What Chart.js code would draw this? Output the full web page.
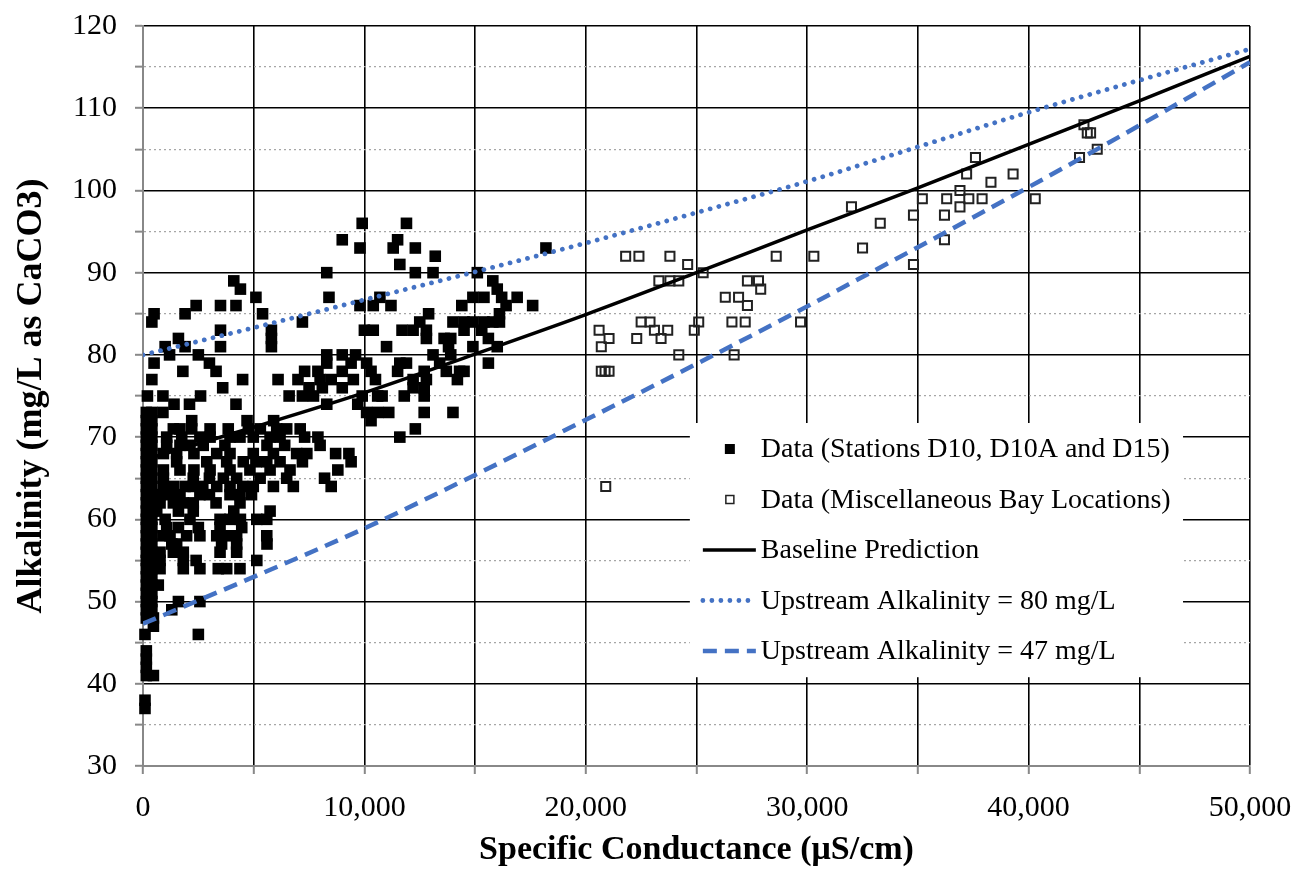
<!DOCTYPE html>
<html>
<head>
<meta charset="utf-8">
<script src="https://cdn.jsdelivr.net/npm/chart.js@4"></script>
<style>
  html, body { margin: 0; padding: 0; background: #fff; }
</style>
</head>
<body>
<canvas id="chart" width="1294" height="873"></canvas>
<script>
// prediction curves
const curveX = [0, 5000, 10000, 15000, 20000, 25000, 30000, 35000, 40000, 45000, 50000];
const baselineY = [67.2, 71.2, 75.4, 80.1, 84.9, 90.0, 95.2, 100.3, 105.6, 110.9, 116.3];
const upstream80Y = [80.0, 83.3, 86.7, 90.1, 93.6, 97.3, 101.1, 105.3, 109.5, 113.4, 117.2];
const upstream47Y = [47.3, 53.0, 58.9, 65.4, 72.1, 78.9, 85.9, 93.1, 100.4, 107.9, 115.6];

// stations D10, D10A, D15: [alkalinity, [conductance values...]]
const stationRows = [
  [96, [9900, 11900]],
  [94, [9000, 11500]],
  [93, [9800, 11300, 12300, 18200]],
  [92, [13200]],
  [91, [11600]],
  [90, [8300, 12300, 13100, 15100]],
  [89, [4100, 15800]],
  [88, [4400, 16000]],
  [87, [5100, 8400, 10700, 14900, 15400, 16200, 16900]],
  [86, [2400, 3500, 4200, 9800, 10400, 11200, 14400, 16400, 17600]],
  [85, [500, 1900, 5400, 12900, 16100]],
  [84, [400, 7200, 12500, 14000, 14500, 14900, 15400, 15800, 16100]],
  [83, [3500, 5800, 10000, 10400, 11700, 12200, 12800, 14500, 15300]],
  [82, [1600, 5800, 12800, 13600, 13900, 15600]],
  [81, [1000, 1900, 3500, 5800, 11000, 13800, 14900, 16000]],
  [80, [1200, 2500, 8300, 9000, 9600, 13100, 13900]],
  [79, [500, 3000, 8300, 9400, 10100, 11600, 11900, 13400, 15600]],
  [78, [1800, 3300, 7300, 7900, 9000, 10300, 11500, 12700, 13700, 14300, 14500]],
  [77, [400, 4500, 6100, 7000, 8000, 8500, 9500, 10500, 12200, 12800, 14200]],
  [76, [3600, 7500, 8100, 9000, 12200, 12700]],
  [75, [200, 900, 2600, 6600, 7200, 7700, 9900, 10600, 10800, 11800, 12700]],
  [74, [1400, 2100, 4200, 8300, 9700]],
  [73, [150, 400, 900, 10100, 10600, 11100, 12700, 14000]],
  [72, [150, 400, 2200, 4700, 5900, 10300]],
  [71, [150, 400, 1370, 1670, 2200, 3030, 3850, 4760, 5300, 6040, 6490, 7100, 12300]],
  [70, [150, 400, 1070, 1750, 2570, 3030, 3930, 4380, 4980, 5740, 6190, 7300, 7900, 11600]],
  [69, [150, 400, 1070, 1670, 2120, 2720, 3700, 5600, 6400, 8000]],
  [68, [150, 400, 920, 1520, 2300, 3330, 3930, 4980, 5890, 6940, 7400, 8700, 9300]],
  [67, [150, 400, 1520, 2880, 3780, 4530, 5100, 5590, 6190, 7200, 9400]],
  [66, [150, 400, 920, 1670, 2300, 3030, 3930, 4830, 5740, 6640, 8800]],
  [65, [150, 400, 920, 2270, 3000, 3630, 4230, 5290, 6490, 8200]],
  [64, [150, 400, 920, 1370, 1900, 2270, 2700, 3330, 3930, 4500, 4980, 5890, 6790, 8500]],
  [63, [150, 400, 770, 1200, 1670, 2570, 3000, 3930, 4380, 4900]],
  [62, [150, 400, 770, 1370, 1820, 2270, 3300, 4380]],
  [61, [150, 400, 620, 1600, 2270, 4100, 5740]],
  [60, [150, 400, 1000, 2120, 3480, 3930, 4400, 5140, 5590]],
  [59, [150, 400, 1070, 1600, 2500, 3480, 4460]],
  [58, [150, 400, 900, 1220, 1970, 2570, 3330, 3780, 4230, 5590]],
  [57, [150, 400, 1300, 1520, 3550, 4230, 5600]],
  [56, [150, 400, 770, 1370, 1820, 3480, 4230]],
  [55, [150, 400, 770, 1820, 2400, 5140]],
  [54, [150, 400, 770, 1820, 2570, 3400, 3780, 4380]],
  [53, [150, 400]],
  [52, [150, 400, 690]],
  [51, [150, 400]],
  [50, [150, 400, 1600, 2570]],
  [49, [150, 400, 1300]],
  [48, [150, 470]],
  [47, [470]],
  [46, [90, 2500]],
  [44, [150]],
  [43, [150]],
  [42, [150]],
  [41, [150, 470]],
  [38, [90]],
  [37, [90]]
];

// miscellaneous bay locations: [conductance, alkalinity]
const bayPoints = [
  [20600, 83], [21050, 82], [20700, 81], [20700, 78], [20870, 78], [21050, 78], [20900, 64],
  [21800, 92], [22400, 92], [23800, 92], [24600, 91], [25300, 90],
  [23300, 89], [23800, 89], [24200, 89], [22500, 84], [22900, 84], [23100, 83], [23700, 83],
  [22300, 82], [23400, 82], [25100, 84], [24900, 83], [24200, 80], [26700, 80],
  [26300, 87], [26900, 87], [27300, 86], [27300, 89], [27800, 89], [27900, 88],
  [26600, 84], [27200, 84], [28600, 92], [29700, 84], [30300, 92],
  [32000, 98], [32500, 93], [33300, 96], [34800, 97], [34800, 91], [35200, 99],
  [36200, 97], [36200, 94], [36300, 99], [36900, 100], [36900, 98], [37200, 102],
  [37300, 99], [37600, 104], [37900, 99], [38300, 101], [39300, 102], [40300, 99],
  [42300, 104], [42500, 108], [42650, 107], [42800, 107], [43100, 105]
];

const labels = [
  'Data (Stations D10, D10A and D15)',
  'Data (Miscellaneous Bay Locations)',
  'Baseline Prediction',
  'Upstream Alkalinity = 80 mg/L',
  'Upstream Alkalinity = 47 mg/L'
];

const serif = '"Liberation Serif", "Times New Roman", serif';
const blue = '#4472c4';

function curve(ys) {
  return curveX.map((x, i) => ({ x: x, y: ys[i] }));
}

const stationData = [];
stationRows.forEach(r => r[1].forEach(x => stationData.push({ x: x, y: r[0] })));
const bayData = bayPoints.map(p => ({ x: p[0], y: p[1] }));

function gridColor(c) {
  if (!c.tick) return '#000';
  const v = c.tick.value;
  if (v === c.scale.min) return '#888';
  return v % 10 === 0 ? '#000' : '#a6a6a6';
}
function gridDash(c) {
  if (!c.tick) return [];
  return c.tick.value % 10 === 0 ? [] : [2, 3];
}
function gridWidth(c) {
  if (!c.tick) return 1.5;
  return c.tick.value % 10 === 0 ? 1.6 : 1.3;
}

// legend drawn in a white box inside the plot
const boxLegend = {
  id: 'boxLegend',
  afterDraw(chart) {
    const { ctx, chartArea: a } = chart;
    const w = a.right - a.left, h = a.bottom - a.top;
    const left = a.left + w * 0.494, right = a.left + w * 0.9395;
    const top = a.top + h * 0.5365, bottom = a.top + h * 0.88;
    const ds = chart.data.datasets;
    ctx.save();
    ctx.fillStyle = '#fff';
    ctx.fillRect(left, top, right - left, bottom - top);
    ctx.font = '28px ' + serif;
    ctx.textBaseline = 'middle';
    const order = [3, 4, 0, 1, 2];
    order.forEach((di, row) => {
      const d = ds[di];
      const y = top + 26 + row * 50.5;
      ctx.save();
      if (d.showLine) {
        ctx.strokeStyle = d.borderColor;
        ctx.lineWidth = d.borderWidth;
        ctx.lineCap = d.borderCapStyle || 'butt';
        ctx.setLineDash(d.borderDash || []);
        ctx.beginPath();
        ctx.moveTo(left + 13, y);
        ctx.lineTo(left + 66, y);
        ctx.stroke();
      } else if (d.backgroundColor === 'transparent') {
        ctx.strokeStyle = d.borderColor;
        ctx.lineWidth = 1.5;
        ctx.strokeRect(left + 36, y - 4, 8, 8);
      } else {
        ctx.fillStyle = d.backgroundColor;
        ctx.fillRect(left + 35, y - 5, 10, 10);
      }
      ctx.restore();
      ctx.fillStyle = '#000';
      ctx.fillText(d.label, left + 71, y + 1);
    });
    ctx.restore();
  }
};

new Chart(document.getElementById('chart'), {
  type: 'scatter',
  data: {
    datasets: [
      {
        label: labels[2], data: curve(baselineY), showLine: true,
        borderColor: '#000', borderWidth: 3.5, pointRadius: 0,
        cubicInterpolationMode: 'monotone'
      },
      {
        label: labels[3], data: curve(upstream80Y), showLine: true,
        borderColor: blue, borderWidth: 4.8, borderDash: [0.01, 9], borderCapStyle: 'round',
        pointRadius: 0, cubicInterpolationMode: 'monotone'
      },
      {
        label: labels[4], data: curve(upstream47Y), showLine: true,
        borderColor: blue, borderWidth: 4.5, borderDash: [14, 8],
        pointRadius: 0, cubicInterpolationMode: 'monotone'
      },
      {
        label: labels[0], data: stationData, pointStyle: 'rect',
        pointRadius: 8.2, backgroundColor: '#000', borderWidth: 0, clip: false
      },
      {
        label: labels[1], data: bayData, pointStyle: 'rect',
        pointRadius: 6.4, backgroundColor: 'transparent', borderColor: '#222', borderWidth: 2
      }
    ]
  },
  options: {
    responsive: false,
    animation: false,
    events: [],
    layout: { padding: { left: 0, right: 44, top: 26, bottom: 0 } },
    plugins: { legend: { display: false }, tooltip: { enabled: false } },
    scales: {
      x: {
        type: 'linear', min: 0, max: 50000,
        ticks: {
          stepSize: 5000, autoSkip: false, maxRotation: 0, padding: 16,
          color: '#000', font: { family: serif, size: 30 },
          callback: v => v % 10000 === 0 ? v.toLocaleString('en-US') : ''
        },
        grid: { color: gridColor, lineWidth: gridWidth, tickLength: 8, tickColor: '#888', tickWidth: 2 },
        border: { color: '#888', width: 2, dash: gridDash },
        title: {
          display: true, text: 'Specific Conductance (μS/cm)', color: '#000',
          font: { family: serif, size: 34, weight: 'bold' }, padding: { top: 0, bottom: 2 }
        },
        afterFit: s => {
          s.height = 107;
          s.paddingLeft = 0;
          s.paddingRight = 0;
        }
      },
      y: {
        type: 'linear', min: 30, max: 120,
        ticks: {
          stepSize: 5, autoSkip: false, padding: 18,
          color: '#000', font: { family: serif, size: 30 },
          callback: v => v % 10 === 0 ? String(v) : ''
        },
        grid: { color: gridColor, lineWidth: gridWidth, tickLength: 8, tickColor: '#888', tickWidth: 2 },
        border: { color: '#888', width: 2, dash: gridDash },
        title: {
          display: true, text: 'Alkalinity (mg/L as CaCO3)', color: '#000',
          font: { family: serif, size: 36, weight: 'bold' }, padding: { top: 10, bottom: 0 }
        },
        afterFit: s => {
          s.width = 143;
          s.paddingTop = 0;
          s.paddingBottom = 0;
        }
      }
    }
  },
  plugins: [boxLegend]
});
</script>
</body>
</html>
